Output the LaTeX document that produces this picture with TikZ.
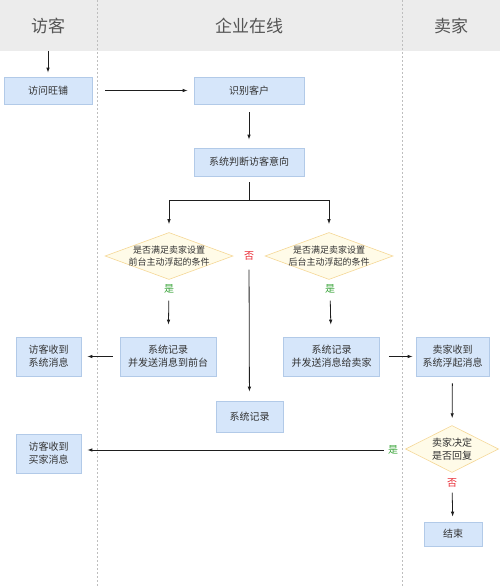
\documentclass[tikz,border=0pt]{standalone}
\usepackage{fontspec}
\newfontfamily\cjk{Noto Sans CJK SC}
\usepackage{tikz}
\usetikzlibrary{arrows.meta,shapes.geometric,positioning}

\definecolor{headgray}{RGB}{236,236,236}
\definecolor{lanegray}{RGB}{190,190,190}
\definecolor{boxfill}{RGB}{214,230,250}
\definecolor{boxline}{RGB}{178,202,232}
\definecolor{diamfill}{RGB}{255,251,232}
\definecolor{diamline}{RGB}{245,215,150}
\definecolor{textgray}{RGB}{51,51,51}
\definecolor{titlegray}{RGB}{85,85,85}
\definecolor{yesgreen}{RGB}{60,165,60}
\definecolor{nored}{RGB}{232,40,50}
\definecolor{linegray}{RGB}{30,30,30}

\begin{document}
\begin{tikzpicture}[x=1pt, y=-1pt,
        box/.style={rectangle, draw=boxline, line width=0.6pt, fill=boxfill, inner sep=0pt,
        align=center, text=textgray, font=\cjk\fontsize{10}{13.3}\selectfont},
        decision/.style={diamond, draw=diamline, line width=0.6pt, fill=diamfill, inner sep=0pt,
        align=center, text=textgray},
        lanetitle/.style={text=titlegray, font=\cjk\fontsize{17}{20}\selectfont},
        yeslabel/.style={text=yesgreen, inner sep=1pt, font=\cjk\fontsize{10}{12}\selectfont},
        nolabel/.style={text=nored, inner sep=1pt, font=\cjk\fontsize{10}{12}\selectfont},
        flow/.style={draw=linegray, line width=0.8pt},
        arrow/.style={flow, -{Latex[length=5pt,width=3.5pt]}},
        ]
    \useasboundingbox (0,0) rectangle (500,588);

    % lanes
    \fill [headgray] (0,0) rectangle (500,51);
    \draw [lanegray, dash pattern=on 2pt off 2pt] (97,0) -- (97,588);
    \draw [lanegray, dash pattern=on 2pt off 2pt] (402,0) -- (402,588);

    \node (visitor) [lanetitle] at (48,26) {访客};
    \node (platform) [lanetitle] at (249,26) {企业在线};
    \node (seller) [lanetitle] at (451,26) {卖家};
    \coordinate (start) at (48,51);

    % visitor enters
    \node (visit) [box, minimum width=88pt, minimum height=27pt] at (48,90.5) {访问旺铺};
    \node (identify) [box, minimum width=110pt, minimum height=27pt] at (249,90.5) {识别客户};
    \node (judge) [box, minimum width=110pt, minimum height=28pt] at (249,162) {系统判断访客意向};
    \coordinate (split) at (249,200);

    % conditions
    \node (frontcond) [decision, aspect=2.7, inner sep=-3pt, minimum width=128pt, minimum height=47pt,
        font=\cjk\fontsize{9}{12}\selectfont] at (169,256)
        {是否满足卖家设置\\前台主动浮起的条件};
    \node (backcond) [decision, aspect=2.7, inner sep=-3pt, minimum width=128pt, minimum height=47pt,
        font=\cjk\fontsize{9}{12}\selectfont] at (329,256)
        {是否满足卖家设置\\后台主动浮起的条件};
    \node (frontyes) [yeslabel] at (169,289) {是};
    \node (backyes) [yeslabel] at (330,289) {是};
    \node (noside) [nolabel] at (249,256) {否};

    % messages
    \node (frontmsg) [box, minimum width=96pt, minimum height=39pt] at (168,356.5)
        {系统记录\\并发送消息到前台};
    \node (sellermsg) [box, minimum width=96pt, minimum height=39pt] at (331.5,356.5)
        {系统记录\\并发送消息给卖家};
    \node (visitorsys) [box, minimum width=65pt, minimum height=39pt] at (48.5,356.5)
        {访客收到\\系统消息};
    \node (sellerrecv) [box, minimum width=73pt, minimum height=39pt] at (452.5,356.5)
        {卖家收到\\系统浮起消息};
    \node (record) [box, minimum width=67pt, minimum height=31pt] at (249.5,416.5) {系统记录};
    \node (visitorbuyer) [box, minimum width=65pt, minimum height=39pt] at (48.5,453.5)
        {访客收到\\买家消息};

    % seller reply
    \node (decide) [decision, aspect=2, minimum width=93pt, minimum height=47pt,
        font=\cjk\fontsize{10}{13.3}\selectfont] at (452,449) {卖家决定\\是否回复};
    \node (replyyes) [yeslabel] at (393,450) {是};
    \node (replyno) [nolabel] at (452,483) {否};
    \node (finish) [box, minimum width=58pt, minimum height=24pt] at (453,534) {结束};

    \draw [arrow, shorten >=4pt] (start) -- (visit);
    \draw [arrow, shorten <=13pt, shorten >=6pt] (visit) -- (identify);
    \draw [arrow, shorten <=8pt, shorten >=8pt] (identify) -- (judge);
    \draw [flow, shorten <=6pt] (judge) -- (split);
    \draw [arrow, shorten >=8pt] (split) -| (frontcond);
    \draw [arrow, shorten >=8pt] (split) -| (backcond);
    \draw [arrow, shorten <=6pt, shorten >=12pt] (frontyes) -- (frontmsg);
    \draw [arrow, shorten <=6pt, shorten >=12pt] (backyes) -- (sellermsg);
    \draw [arrow, shorten <=8pt, shorten >=9pt] (noside) -- (record);
    \draw [arrow, shorten <=7pt, shorten >=6pt] (frontmsg) -- (visitorsys);
    \draw [arrow, shorten <=9pt, shorten >=3pt] (sellermsg) -- (sellerrecv);
    \draw [arrow, shorten <=7pt, shorten >=7pt] (sellerrecv) -- (decide);
    \draw [arrow, shorten <=3pt, shorten >=6pt] (replyyes) -- (replyyes -| visitorbuyer.east);
    \draw [arrow, shorten <=4pt, shorten >=5pt] (replyno) -- (finish);
\end{tikzpicture}
\end{document}
